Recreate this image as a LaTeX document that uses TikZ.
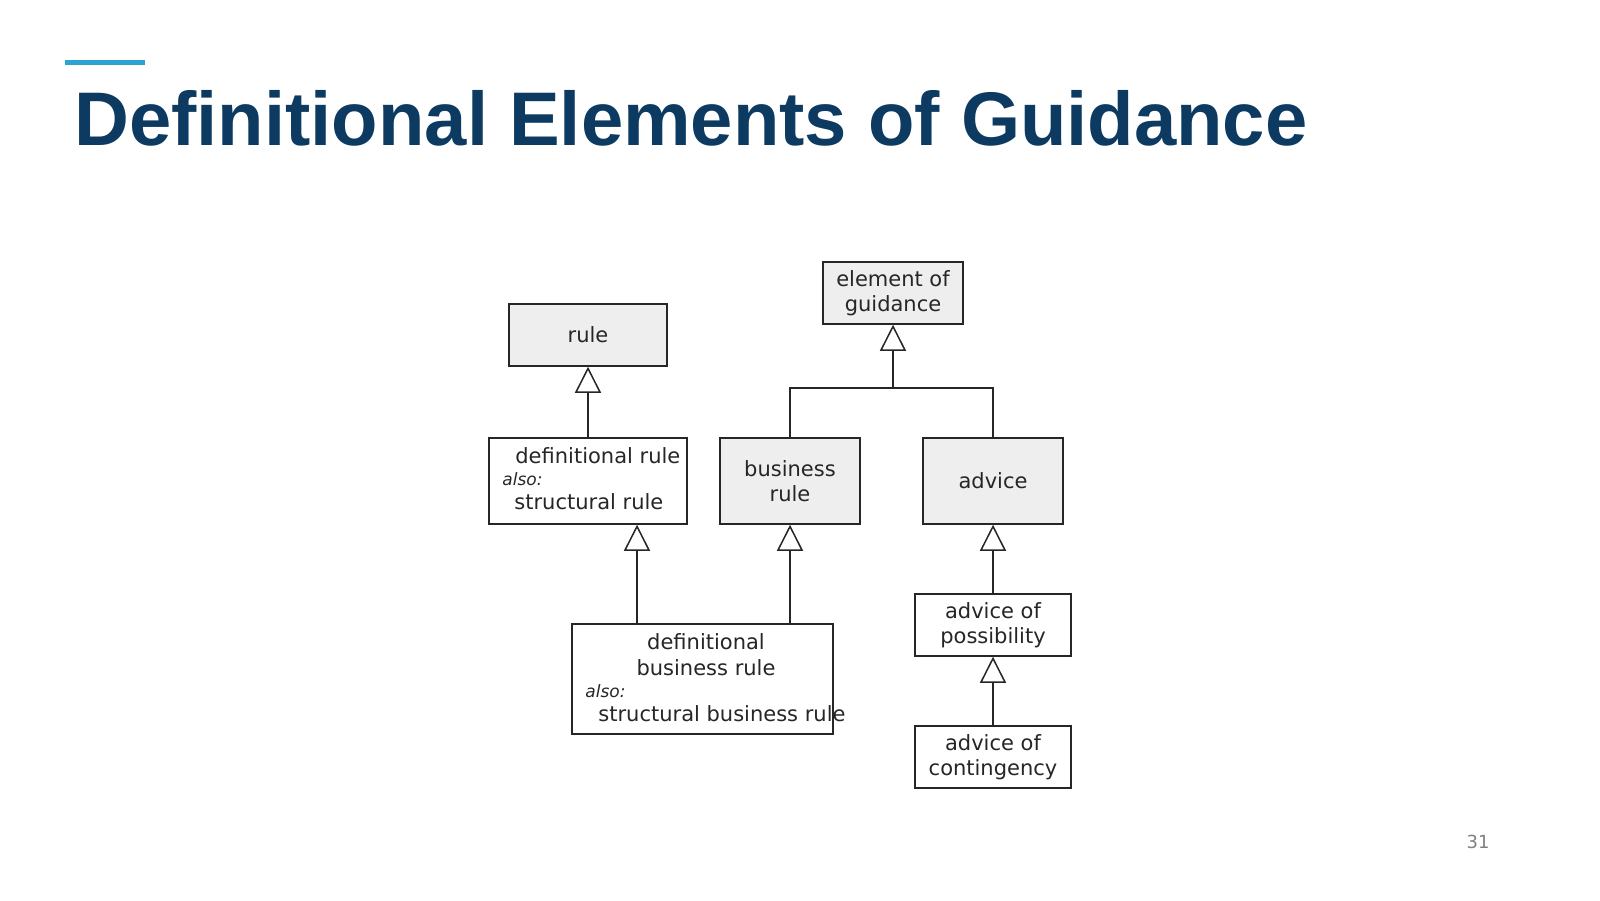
\documentclass[tikz,border=0pt]{standalone}
\usepackage{fontspec}
\setmainfont{DejaVu Sans}
\newfontfamily\titlefont{Liberation Sans}
\usetikzlibrary{arrows.meta}
\definecolor{titleblue}{HTML}{0D3A60}
\definecolor{accent}{HTML}{2BA3D3}
\definecolor{boxgray}{HTML}{EEEEEE}
\begin{document}
\begin{tikzpicture}[x=0.5pt,y=-0.5pt,
  box/.style={draw=black!85,line width=0.75pt,inner sep=0pt,align=center,font=\fontsize{10.5}{12.5}\selectfont,text=black!85},
  gbox/.style={box,fill=boxgray},
  wbox/.style={box,fill=white},
  inh/.style={draw=black!85,line width=0.75pt,-{Triangle[open,length=13pt,width=13pt,line width=0.75pt]}},
  ln/.style={draw=black!85,line width=0.75pt},
  txt/.style={inner sep=0pt,font=\fontsize{10.5}{12.5}\selectfont,text=black!85,anchor=west},
  itx/.style={txt,font=\fontsize{8.5}{10}\selectfont\itshape}]
\useasboundingbox (0,0) rectangle (1600,900);
\draw[accent,line width=2.5pt] (65,62) -- (145,62);
\node[anchor=base west,inner sep=0pt,text=titleblue,font=\titlefont\bfseries\fontsize{38}{44}\selectfont] (title) at (74,145) {Definitional Elements of Guidance};
\node[anchor=center,inner sep=0pt,text=black!50,font=\fontsize{9}{10}\selectfont] (pg) at (1478,842) {31};
% boxes
\node[gbox,minimum width=79pt,minimum height=31pt] (rule) at (588,335) {rule};
\node[gbox,minimum width=70pt,minimum height=31pt] (eog) at (893,293) {element of\\guidance};
\node[wbox,minimum width=99pt,minimum height=43pt] (defrule) at (588,481) {};
\node[txt] (dr1) at (515,456) {definitional rule};
\node[itx] (dr2) at (502,479) {also:};
\node[txt] (dr3) at (514,502) {structural rule};
\node[gbox,minimum width=70pt,minimum height=43pt] (busrule) at (790,481) {business\\rule};
\node[gbox,minimum width=70pt,minimum height=43pt] (advice) at (993,481) {advice};
\node[wbox,minimum width=130.5pt,minimum height=55pt] (defbus) at (702.5,679) {};
\node[txt,anchor=center] (db1) at (706,642) {definitional};
\node[txt,anchor=center] (db2) at (706,668) {business rule};
\node[itx] (db3) at (585,691) {also:};
\node[txt] (db4) at (598,714) {structural business rule};
\node[wbox,minimum width=78pt,minimum height=31pt] (aop) at (993,625) {advice of\\possibility};
\node[wbox,minimum width=78pt,minimum height=31pt] (aoc) at (993,757) {advice of\\contingency};
% connectors
\draw[inh] (defrule) -- (rule);
\coordinate (j) at (893,388);
\draw[ln] (busrule.north) |- (j) -| (advice.north);
\draw[inh] (j) -- (eog);
\coordinate (dbl) at (637,624);
\coordinate (dbr) at (790,624);
\draw[inh] (dbl) -- (dbl |- defrule.south);
\draw[inh] (dbr) -- (busrule.south);
\draw[inh] (aop) -- (advice);
\draw[inh] (aoc) -- (aop);
\end{tikzpicture}
\end{document}
